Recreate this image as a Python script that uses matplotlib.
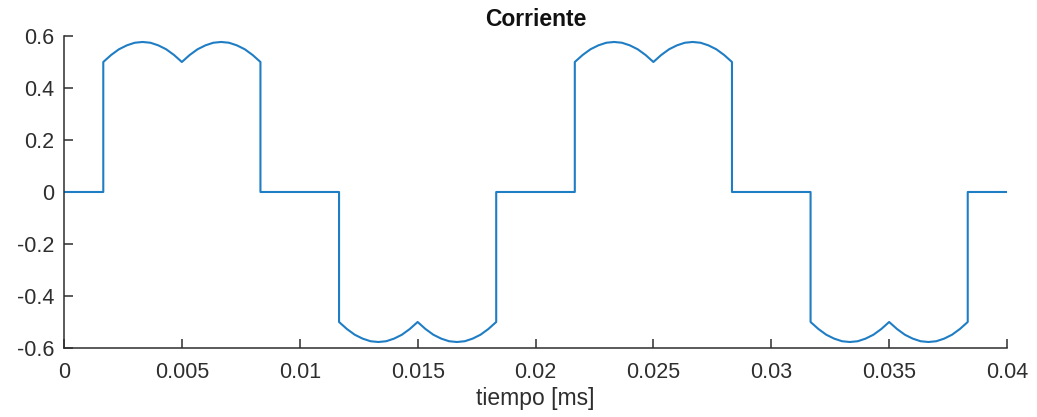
import matplotlib
matplotlib.use("Agg")
import matplotlib.pyplot as plt

# -------- DATA --------
tiempo = [
    0.0, 0.001667,
    0.001667, 0.002, 0.002333, 0.002667, 0.003, 0.003333, 0.003667, 0.004, 0.004333, 0.004667,
    0.005, 0.005333, 0.005667, 0.006, 0.006333, 0.006667, 0.007, 0.007333, 0.007667, 0.008, 0.008333,
    0.008333, 0.011667,
    0.011667, 0.012, 0.012333, 0.012667, 0.013, 0.013333, 0.013667, 0.014, 0.014333, 0.014667,
    0.015, 0.015333, 0.015667, 0.016, 0.016333, 0.016667, 0.017, 0.017333, 0.017667, 0.018, 0.018333,
    0.018333, 0.021667,
    0.021667, 0.022, 0.022333, 0.022667, 0.023, 0.023333, 0.023667, 0.024, 0.024333, 0.024667,
    0.025, 0.025333, 0.025667, 0.026, 0.026333, 0.026667, 0.027, 0.027333, 0.027667, 0.028, 0.028333,
    0.028333, 0.031667,
    0.031667, 0.032, 0.032333, 0.032667, 0.033, 0.033333, 0.033667, 0.034, 0.034333, 0.034667,
    0.035, 0.035333, 0.035667, 0.036, 0.036333, 0.036667, 0.037, 0.037333, 0.037667, 0.038, 0.038333,
    0.038333, 0.04,
]

corriente = [
    0.0, 0.0,
    0.500, 0.527, 0.549, 0.564, 0.574, 0.577, 0.574, 0.564, 0.549, 0.527,
    0.500, 0.527, 0.549, 0.564, 0.574, 0.577, 0.574, 0.564, 0.549, 0.527, 0.500,
    0.0, 0.0,
    -0.500, -0.527, -0.549, -0.564, -0.574, -0.577, -0.574, -0.564, -0.549, -0.527,
    -0.500, -0.527, -0.549, -0.564, -0.574, -0.577, -0.574, -0.564, -0.549, -0.527, -0.500,
    0.0, 0.0,
    0.500, 0.527, 0.549, 0.564, 0.574, 0.577, 0.574, 0.564, 0.549, 0.527,
    0.500, 0.527, 0.549, 0.564, 0.574, 0.577, 0.574, 0.564, 0.549, 0.527, 0.500,
    0.0, 0.0,
    -0.500, -0.527, -0.549, -0.564, -0.574, -0.577, -0.574, -0.564, -0.549, -0.527,
    -0.500, -0.527, -0.549, -0.564, -0.574, -0.577, -0.574, -0.564, -0.549, -0.527, -0.500,
    0.0, 0.0,
]

x_ticks = [0, 0.005, 0.01, 0.015, 0.02, 0.025, 0.03, 0.035, 0.04]
x_labels = ["0", "0.005", "0.01", "0.015", "0.02", "0.025", "0.03", "0.035", "0.04"]
y_ticks = [-0.6, -0.4, -0.2, 0, 0.2, 0.4, 0.6]
y_labels = ["-0.6", "-0.4", "-0.2", "0", "0.2", "0.4", "0.6"]

# -------- STYLE --------
plt.rcParams["font.family"] = ["Liberation Sans", "DejaVu Sans"]
AXIS_COLOR = "#2e2e2e"
LINE_COLOR = "#1f7dc4"

fig = plt.figure(figsize=(10.37, 4.17), dpi=100)
ax = fig.add_axes([0.0617, 0.1655, 0.9094, 0.7482])

ax.plot(tiempo, corriente, color=LINE_COLOR, linewidth=1.5)

ax.set_xlim(0, 0.04)
ax.set_ylim(-0.6, 0.6)
ax.set_xticks(x_ticks)
ax.set_xticklabels(x_labels)
ax.set_yticks(y_ticks)
ax.set_yticklabels(y_labels)

for side in ["top", "right"]:
    ax.spines[side].set_visible(False)
for side in ["left", "bottom"]:
    ax.spines[side].set_color(AXIS_COLOR)
    ax.spines[side].set_linewidth(1.1)

ax.tick_params(direction="in", length=6.5, width=1.1, color=AXIS_COLOR,
               labelcolor=AXIS_COLOR, labelsize=15.5)
ax.tick_params(axis="x", pad=10)
ax.tick_params(axis="y", pad=7)

ax.set_title("Corriente", fontsize=16.5, fontweight="bold", color="#111111", pad=7)
ax.set_xlabel("tiempo [ms]", fontsize=16.5, color=AXIS_COLOR, labelpad=3)

fig.savefig("out.png", dpi=100)
